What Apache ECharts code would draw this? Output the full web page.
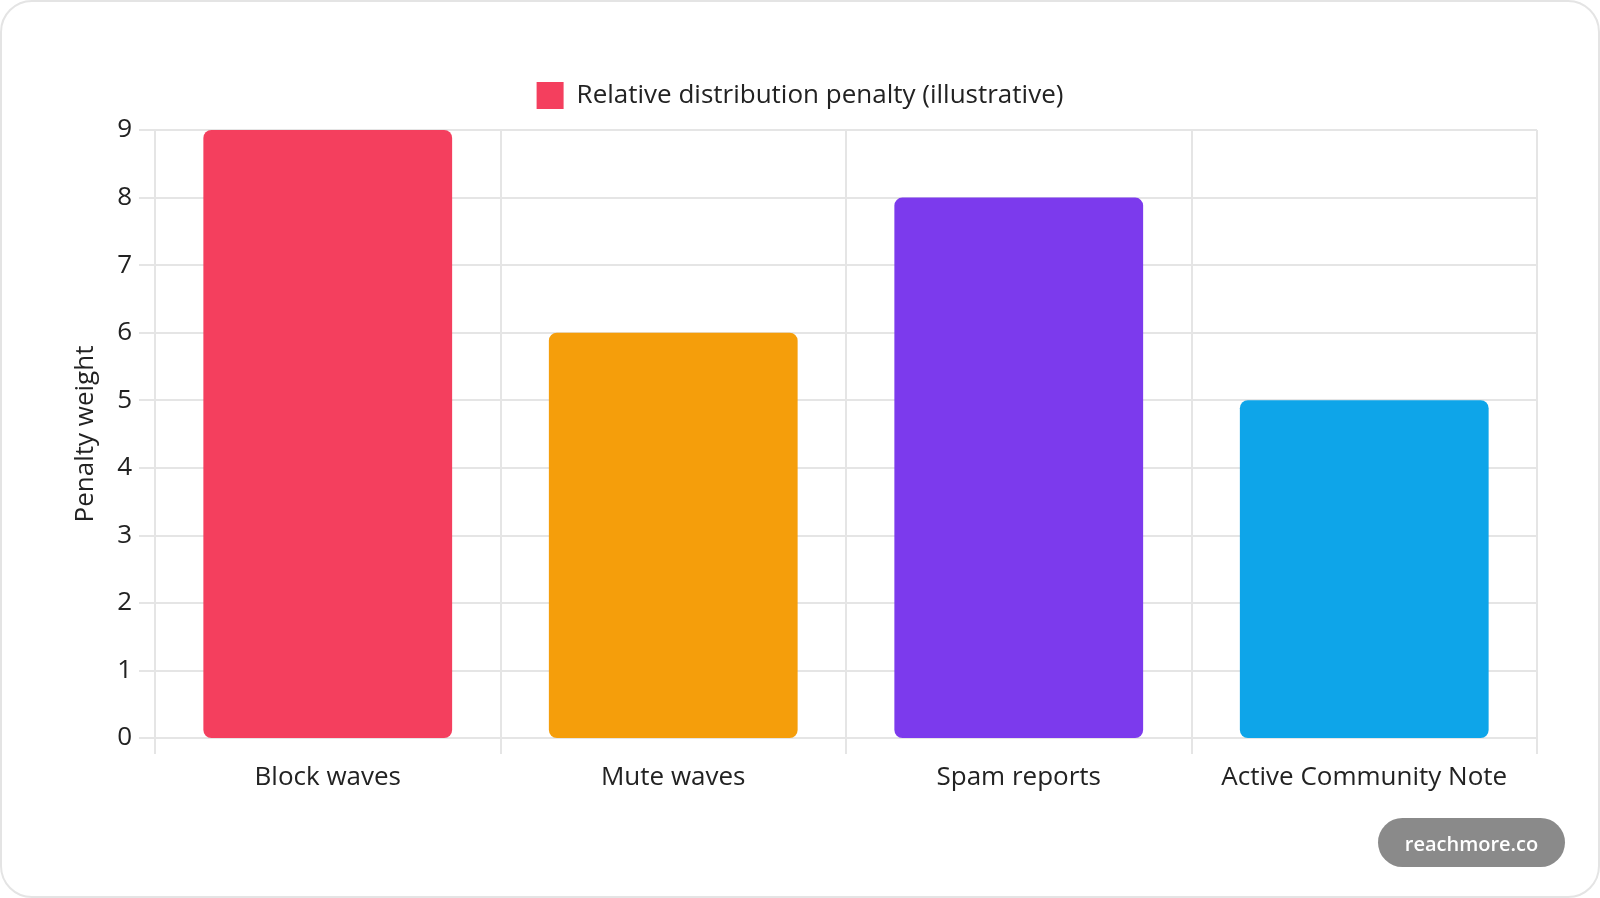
<!DOCTYPE html>
<html lang="en">
<head>
	<meta charset="UTF-8">
	<title>Relative distribution penalty</title>
	<style type="text/css">
		html, body { margin: 0; padding: 0; background: #fff; }
		#a { position: absolute; left: 0; top: 0; width: 1600px; height: 898px; }
		#frame {
			position: absolute; left: 0; top: 0;
			width: 1600px; height: 898px;
			box-sizing: border-box;
			border: 2px solid #e4e4e4;
			border-radius: 32px;
			pointer-events: none;
		}
	</style>
</head>
<body>
	<div id="a"></div>
	<div id="frame"></div>
	<script type="text/javascript" src="https://cdn.jsdelivr.net/npm/echarts@6/dist/echarts.min.js"></script>
	<script type="text/javascript">
		// data
		var categories = ['Block waves', 'Mute waves', 'Spam reports', 'Active Community Note'];
		var penalty = [9, 6, 8, 5];
		var barColors = ['#f43f5e', '#f59e0b', '#7c3aed', '#0ea5e9'];
		var yTicks = [0, 1, 2, 3, 4, 5, 6, 7, 8, 9];

		var font = 'Open Sans';
		var myChart = echarts.init(document.getElementById('a'));

		var d = [];
		for (var i = 0; i < penalty.length; i++) {
			d.push({ value: penalty[i], itemStyle: { color: barColors[i] } });
		}

		var option = {
			backgroundColor: 'transparent',
			animation: false,
			textStyle: { fontFamily: font },
			legend: {
				top: 77,
				left: 'center',
				itemWidth: 27,
				itemHeight: 27,
				icon: 'rect',
				textStyle: { fontSize: 26, color: '#222', fontFamily: font, padding: [0, 0, 0, 8] },
				data: ['Relative distribution penalty (illustrative)']
			},
			grid: { left: 155, right: 63, top: 130, bottom: 160, containLabel: false },
			xAxis: {
				type: 'category',
				data: categories,
				axisLine: { show: true, lineStyle: { color: '#e5e5e5', width: 2 } },
				axisTick: { show: true, interval: 0, length: 16, lineStyle: { color: '#e5e5e5', width: 2 } },
				splitLine: { show: true, interval: 0, lineStyle: { color: '#e5e5e5', width: 2 } },
				axisLabel: { interval: 0, fontSize: 26, color: '#222', margin: 27, fontFamily: font }
			},
			yAxis: {
				type: 'value',
				min: yTicks[0],
				max: yTicks[yTicks.length - 1],
				interval: 1,
				name: 'Penalty weight',
				nameLocation: 'middle',
				nameGap: 56,
				nameTextStyle: { fontSize: 26, color: '#222', fontFamily: font },
				axisLine: { show: true, lineStyle: { color: '#e5e5e5', width: 2 } },
				axisTick: { show: true, length: 16, lineStyle: { color: '#e5e5e5', width: 2 } },
				splitLine: { show: true, lineStyle: { color: '#e5e5e5', width: 2 } },
				axisLabel: { fontSize: 26, color: '#222', margin: 23, fontFamily: font }
			},
			series: [{
				name: 'Relative distribution penalty (illustrative)',
				type: 'bar',
				barWidth: '72%',
				itemStyle: { color: barColors[0], borderRadius: 8 },
				data: d
			}],
			graphic: [{
				type: 'group',
				right: 35,
				top: 818,
				children: [{
					type: 'rect',
					shape: { x: 0, y: 0, width: 187, height: 49, r: 24.5 },
					style: { fill: '#8a8a8a' }
				}, {
					type: 'text',
					x: 93.5,
					y: 27,
					style: {
						text: 'reachmore.co',
						fill: '#fff',
						font: '600 20px "Open Sans"',
						align: 'center',
						verticalAlign: 'middle'
					}
				}]
			}]
		};
		myChart.setOption(option);
	</script>
</body>
</html>
